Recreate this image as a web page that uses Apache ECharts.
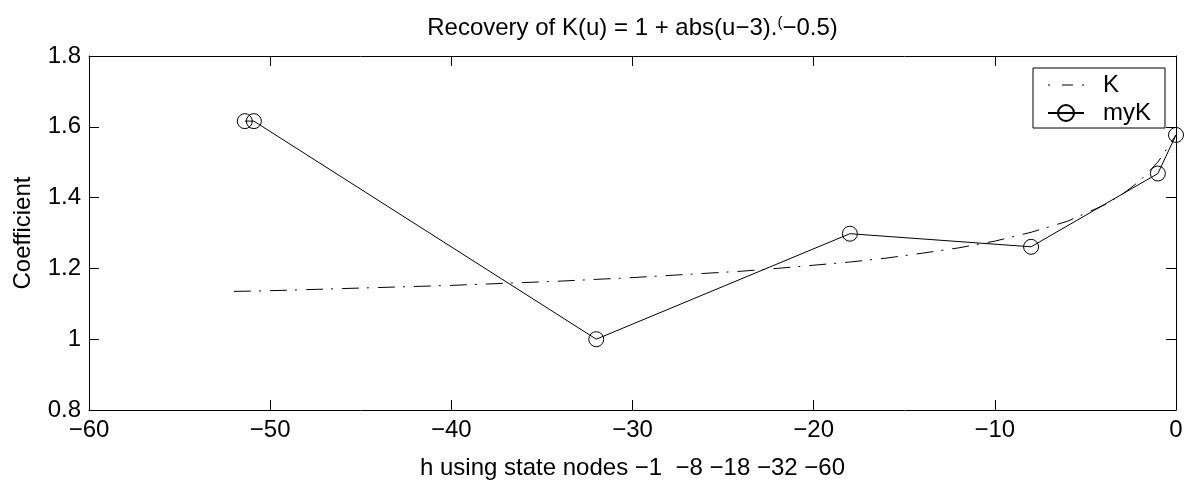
<!DOCTYPE html>
<html>
<head>
<meta charset="utf-8">
<script src="https://cdn.jsdelivr.net/npm/echarts@6/dist/echarts.min.js"></script>
<style>
  html, body { margin: 0; padding: 0; background: #fff; }
  #chart { width: 1190px; height: 485px; }
</style>
</head>
<body>
<div id="chart"></div>
<script>
// Exact coefficient K(u), sampled along h
const kX = [-52, -50, -48, -46, -44, -42, -40, -38, -36, -34, -32, -30, -28, -26,
            -24, -22, -20, -18, -16, -14, -12, -10, -8, -6, -4, -3, -2, -1, 0];
const kY = [1.135, 1.137, 1.140, 1.143, 1.146, 1.149, 1.152, 1.156, 1.160, 1.164,
            1.169, 1.174, 1.180, 1.186, 1.192, 1.200, 1.209, 1.218, 1.229, 1.243,
            1.258, 1.277, 1.302, 1.333, 1.378, 1.408, 1.447, 1.500, 1.577];

// Recovered coefficient at the state nodes
const myX = [-51.4, -50.9, -32, -18, -8, -1, 0];
const myY = [1.616, 1.616, 1.000, 1.298, 1.261, 1.468, 1.577];

// Axis ranges and tick steps
const xRange = [-60, 0];
const xStep = 10;
const yRange = [0.8, 1.8];
const yStep = 0.2;

const titleText = 'Recovery of K(u) = 1 + abs(u\u22123).{sup|(}\u22120.5)';
const xName = 'h using state nodes \u22121  \u22128 \u221218 \u221232 \u221260';
const yName = 'Coefficient';
const seriesNames = ['K', 'myK'];

const FONT = 'Liberation Sans, Arial, Helvetica, sans-serif';

const chart = echarts.init(document.getElementById('chart'), null, { renderer: 'canvas' });

const pair = (xs, ys) => xs.map((x, i) => [x, ys[i]]);
const fmtX = v => String(v).replace('-', '\u2212');
const fmtY = v => String(+Number(v).toFixed(1));

const axisLine = { show: true, onZero: false, lineStyle: { color: '#000', width: 1 } };
const axisTick = { show: true, inside: true, length: 10, lineStyle: { color: '#000', width: 1 } };

const GRID = { left: 89, right: 14, top: 56, bottom: 68 };

chart.setOption({
  animation: false,
  backgroundColor: '#fff',
  textStyle: { fontFamily: FONT },
  grid: Object.assign({ containLabel: false }, GRID),
  graphic: [{
    type: 'text',
    x: GRID.left + (1190 - GRID.left - GRID.right) / 2,
    y: 28,
    style: {
      text: titleText,
      align: 'center',
      verticalAlign: 'middle',
      fontFamily: FONT,
      fontSize: 24,
      lineHeight: 26,
      fill: '#000',
      rich: {
        sup: { fontFamily: FONT, fontSize: 15, lineHeight: 15, verticalAlign: 'top', fill: '#000' }
      }
    }
  }],
  legend: {
    data: [
      {
        name: seriesNames[0],
        // dash-dot sample: dot, dash, dot
        lineStyle: { color: '#000', width: 1, type: [2, 12, 11, 9, 2, 100] },
        itemStyle: { color: 'transparent', borderColor: 'transparent', borderWidth: 0, opacity: 0 }
      },
      { name: seriesNames[1] }
    ],
    orient: 'vertical',
    left: 1033,
    top: 68,
    backgroundColor: '#fff',
    borderColor: '#000',
    borderWidth: 1,
    borderRadius: 0,
    padding: [5, 14, 3, 14],
    itemWidth: 36,
    itemHeight: 20,
    itemGap: 4,
    textStyle: { fontFamily: FONT, fontSize: 24, color: '#000', lineHeight: 24, padding: [0, 0, 0, 14] }
  },
  xAxis: [{
    type: 'value',
    position: 'bottom',
    min: xRange[0], max: xRange[1], interval: xStep,
    axisLine, axisTick,
    splitLine: { show: false },
    axisLabel: { color: '#000', fontFamily: FONT, fontSize: 24, margin: 8, formatter: fmtX },
    name: xName,
    nameLocation: 'middle',
    nameGap: 46,
    nameTextStyle: { color: '#000', fontFamily: FONT, fontSize: 24 }
  }, {
    type: 'value',
    position: 'top',
    min: xRange[0], max: xRange[1], interval: xStep,
    axisLine, axisTick,
    splitLine: { show: false },
    axisLabel: { show: false }
  }],
  yAxis: [{
    type: 'value',
    position: 'left',
    min: yRange[0], max: yRange[1], interval: yStep,
    axisLine, axisTick,
    splitLine: { show: false },
    axisLabel: { color: '#000', fontFamily: FONT, fontSize: 24, margin: 8, formatter: fmtY },
    name: yName,
    nameLocation: 'middle',
    nameRotate: 90,
    nameGap: 54,
    nameTextStyle: { color: '#000', fontFamily: FONT, fontSize: 24 }
  }, {
    type: 'value',
    position: 'right',
    min: yRange[0], max: yRange[1], interval: yStep,
    axisLine, axisTick,
    splitLine: { show: false },
    axisLabel: { show: false }
  }],
  series: [{
    name: seriesNames[0],
    type: 'line',
    xAxisIndex: 0, yAxisIndex: 0,
    data: pair(kX, kY),
    symbol: 'none',
    showSymbol: false,
    lineStyle: { color: '#000', width: 1, type: [17, 8, 2, 9] },
    itemStyle: { color: '#000' },
    z: 2
  }, {
    name: seriesNames[1],
    type: 'line',
    xAxisIndex: 0, yAxisIndex: 0,
    data: pair(myX, myY),
    symbol: 'circle',
    symbolSize: 15,
    showAllSymbol: true,
    lineStyle: { color: '#000', width: 1 },
    itemStyle: { color: 'transparent', borderColor: '#000', borderWidth: 1 },
    z: 3
  }]
});
</script>
</body>
</html>
